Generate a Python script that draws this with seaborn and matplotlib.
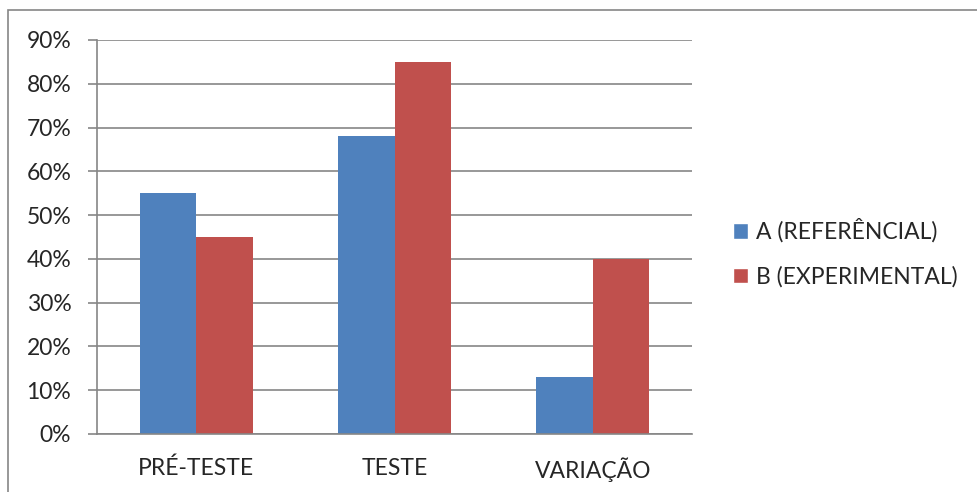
import pandas as pd
import matplotlib.pyplot as plt
import seaborn as sns
from matplotlib.patches import Rectangle, Patch

categories = ["PRÉ-TESTE", "TESTE", "VARIAÇÃO"]
series_names = ["A (REFERÊNCIAL)", "B (EXPERIMENTAL)"]
grupo_a = [55, 68, 13]
grupo_b = [45, 85, 40]
colors = ["#4F81BD", "#C0504D"]

df = pd.DataFrame({
    "fase": categories * 2,
    "grupo": [series_names[0]] * 3 + [series_names[1]] * 3,
    "valor": grupo_a + grupo_b,
})

sns.set_theme(style="white")
plt.rcParams["font.family"] = ["Lato", "DejaVu Sans"]

fig = plt.figure(figsize=(9.77, 4.92), dpi=100)
ax = fig.add_axes([97 / 977, 1 - 434 / 492, (692 - 97) / 977, (434 - 40) / 492])

sns.barplot(data=df, x="fase", y="valor", hue="grupo", palette=colors,
            width=0.57, ax=ax, legend=False, saturation=1, linewidth=0)

ax.set_ylim(0, 90)
ax.set_xlim(-0.5, 2.5)
ax.set_yticks(range(0, 91, 10))
ax.set_yticklabels([f"{v}%" for v in range(0, 91, 10)], fontsize=16.5)
ax.set_xlabel("")
ax.set_ylabel("")
ax.yaxis.grid(True, color="#868686", linewidth=1.2)
ax.set_axisbelow(True)
for s in ["top", "right"]:
    ax.spines[s].set_visible(False)
for s in ["left", "bottom"]:
    ax.spines[s].set_color("#868686")
    ax.spines[s].set_linewidth(1.2)

# category labels centred, tick marks at category boundaries
ax.set_xticks([0, 1, 2])
ax.set_xticklabels(categories, fontsize=16.5)
ax.tick_params(axis="x", length=0, pad=17)
ax.set_xticks([-0.5, 0.5, 1.5, 2.5], minor=True)
ax.tick_params(axis="x", which="minor", length=6.5, color="#868686", width=1.2, direction="out")
ax.tick_params(axis="y", length=6.5, color="#868686", width=1.2, left=True, pad=12)

handles = [Patch(facecolor=c, label=n) for c, n in zip(colors, series_names)]
fig.legend(handles=handles, loc="center left", bbox_to_anchor=(712 / 977, 1 - 253 / 492),
           frameon=False, fontsize=16.5, handlelength=0.65, handleheight=0.65,
           handletextpad=0.35, labelspacing=1.0)

fig.patches.append(Rectangle((8 / 977, -0.05), 1.0, 1 - 10 / 492 + 0.05,
                             transform=fig.transFigure, fill=False,
                             edgecolor="#868686", linewidth=1.2))

fig.savefig("out.png", dpi=100)
